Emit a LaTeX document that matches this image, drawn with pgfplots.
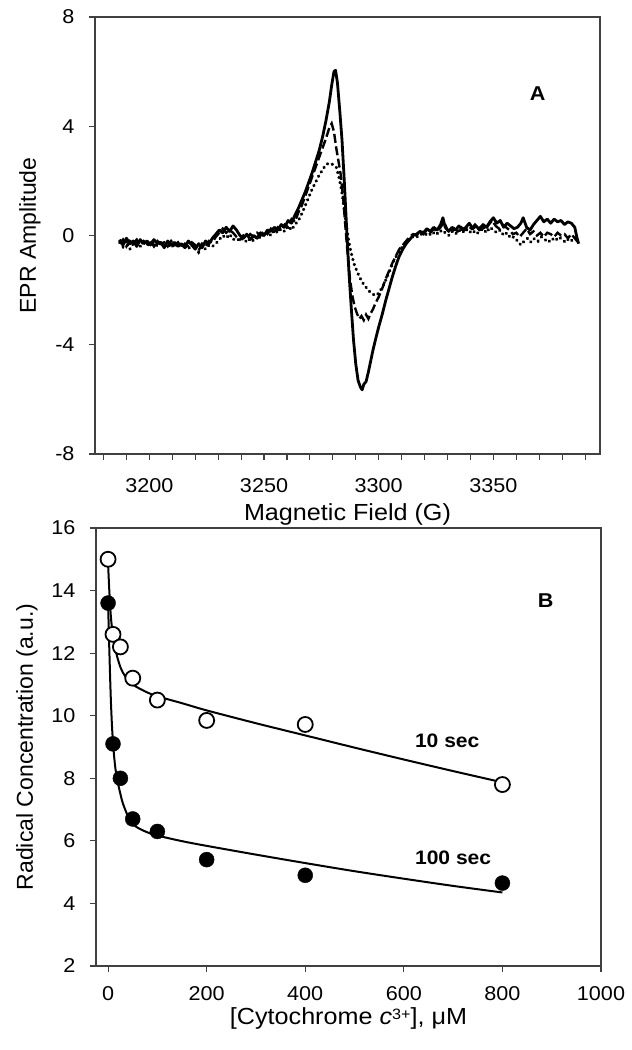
\documentclass[border=0pt]{standalone}
\usepackage{fontspec}
\setmainfont[FakeStretch=1.08]{Liberation Sans}
\newfontfamily\rotfont{Liberation Sans}
\usepackage{pgfplots}
\pgfplotsset{compat=1.18}
\definecolor{axgray}{HTML}{404040}

\pgfplotstableread{
x y
3187 -0.15
3188.5 -0.35
3190 -0.1
3191.5 -0.3
3193 -0.2
3194.5 -0.4
3196 -0.15
3197.5 -0.3
3199 -0.2
3200.5 -0.35
3202 -0.15
3203.5 -0.3
3205 -0.25
3206.5 -0.45
3208 -0.2
3209.5 -0.35
3211 -0.25
3212.5 -0.4
3214 -0.3
3215.5 -0.45
3217 -0.2
3218.5 -0.35
3220 -0.5
3221.5 -0.3
3223 -0.45
3224.5 -0.2
3226 -0.3
3227.5 -0.1
3229 0.05
3230.5 0.2
3232 0.1
3233.5 0.3
3235 0.15
3236.5 0.35
3238 0.2
3239.5 0.0
3241 -0.1
3242.5 0.05
3244 -0.15
3245.5 0.0
3247 -0.1
3248.5 0.1
3250 0.0
3251.5 0.2
3253 0.15
3254.5 0.3
3256 0.2
3257.5 0.4
3259 0.3
3260.5 0.55
3262 0.45
3263.5 0.75
3265 1.0
3266.5 1.3
3268 1.6
3269.5 1.95
3271 2.3
3272.5 2.7
3274 3.1
3275.5 3.6
3277 4.2
3278.5 4.9
3279.5 5.5
3280.5 6.0
3281.2 6.05
3282 5.6
3283 4.6
3284 3.5
3285 2.0
3286 0.3
3287 -1.3
3288 -2.6
3289 -3.8
3290 -4.7
3291 -5.3
3292 -5.55
3292.8 -5.65
3293.5 -5.45
3294.5 -5.35
3295.5 -5.0
3296.5 -4.6
3297.5 -4.2
3298.5 -3.85
3300 -3.35
3301.5 -2.9
3303 -2.4
3304.5 -1.95
3306 -1.5
3307.5 -1.1
3309 -0.75
3310.5 -0.5
3312 -0.3
3313.5 -0.15
3315 0.0
3316.5 0.05
3318 0.15
3319.5 0.1
3321 0.25
3322.5 0.15
3324 0.3
3325.5 0.2
3327 0.4
3328 0.65
3329 0.3
3330.5 0.15
3332 0.3
3333.5 0.2
3335 0.35
3336.5 0.2
3338 0.3
3339.5 0.45
3341 0.25
3342.5 0.35
3344 0.2
3345.5 0.4
3347 0.3
3348.5 0.5
3350 0.65
3351.5 0.45
3353 0.55
3354.5 0.3
3356 0.45
3357.5 0.35
3359 0.25
3360.5 0.3
3362 0.45
3363 0.65
3364.5 0.3
3366 0.2
3367.5 0.4
3369 0.55
3370.5 0.7
3372 0.5
3373.5 0.6
3375 0.45
3376.5 0.6
3378 0.5
3379.5 0.55
3381 0.4
3382.5 0.5
3384 0.45
3385.5 0.3
3386.5 -0.1
3387.2 -0.3
}\solidtab

\pgfplotstableread{
x y
3187 -0.3
3188.5 -0.15
3190 -0.4
3191.5 -0.2
3193 -0.3
3194.5 -0.15
3196 -0.35
3197.5 -0.2
3199 -0.3
3200.5 -0.2
3202 -0.4
3203.5 -0.2
3205 -0.3
3206.5 -0.25
3208 -0.4
3209.5 -0.2
3211 -0.35
3212.5 -0.25
3214 -0.45
3215.5 -0.3
3217 -0.4
3218.5 -0.25
3220 -0.35
3221.5 -0.55
3223 -0.3
3224.5 -0.4
3226 -0.2
3227.5 -0.25
3229 -0.05
3230.5 0.1
3232 0.25
3233.5 0.1
3235 0.2
3236.5 0.1
3238 -0.05
3239.5 -0.15
3241 0.0
3242.5 -0.1
3244 0.05
3245.5 -0.05
3247 0.1
3248.5 0.0
3250 0.15
3251.5 0.05
3253 0.25
3254.5 0.15
3256 0.3
3257.5 0.2
3259 0.4
3260.5 0.3
3262 0.6
3263.5 0.5
3265 0.85
3266.5 1.1
3268 1.45
3269.5 1.8
3271 2.15
3272.5 2.5
3274 2.85
3275.5 3.2
3277 3.55
3278.5 3.95
3279.5 4.1
3280.5 3.8
3281.5 3.2
3282.5 2.7
3283.5 2.2
3284.5 1.4
3285.5 0.3
3286.5 -0.7
3287.5 -1.6
3288.5 -2.2
3289.5 -2.6
3290.5 -2.85
3291.5 -3.05
3292.5 -2.95
3293.5 -3.1
3294.5 -2.9
3295.5 -3.05
3296.5 -2.85
3297.5 -2.7
3298.5 -2.5
3300 -2.25
3301.5 -1.95
3303 -1.6
3304.5 -1.3
3306 -1.0
3307.5 -0.75
3309 -0.5
3310.5 -0.35
3312 -0.2
3313.5 -0.05
3315 0.05
3316.5 0.0
3318 0.15
3319.5 0.05
3321 0.2
3322.5 0.1
3324 0.25
3325.5 0.15
3327 0.3
3328.5 0.5
3330 0.2
3331.5 0.1
3333 0.25
3334.5 0.15
3336 0.3
3337.5 0.2
3339 0.35
3340.5 0.25
3342 0.4
3343.5 0.25
3345 0.35
3346.5 0.2
3348 0.4
3349.5 0.55
3351 0.35
3352.5 0.25
3354 0.4
3355.5 0.3
3357 0.2
3358.5 0.05
3360 0.1
3361.5 -0.05
3363 0.1
3364.5 0.25
3366 0.05
3367.5 0.15
3369 0.0
3370.5 0.1
3372 -0.05
3373.5 0.1
3375 0.05
3376.5 -0.05
3378 0.1
3379.5 0.0
3381 0.05
3382.5 -0.1
3384 0.05
3385.5 -0.1
3387 -0.25
}\dashtab

\pgfplotstableread{
x y
3187 -0.25
3188.5 -0.4
3190 -0.2
3191.5 -0.5
3193 -0.3
3194.5 -0.25
3196 -0.4
3197.5 -0.25
3199 -0.35
3200.5 -0.3
3202 -0.25
3203.5 -0.4
3205 -0.3
3206.5 -0.35
3208 -0.3
3209.5 -0.45
3211 -0.3
3212.5 -0.4
3214 -0.35
3215.5 -0.4
3217 -0.5
3218.5 -0.3
3220 -0.4
3221.5 -0.6
3223 -0.4
3224.5 -0.5
3226 -0.35
3227.5 -0.4
3229 -0.3
3230.5 -0.15
3232 0.0
3233.5 -0.1
3235 0.05
3236.5 -0.15
3238 -0.1
3239.5 -0.2
3241 -0.1
3242.5 -0.25
3244 -0.1
3245.5 -0.2
3247 0.0
3248.5 -0.1
3250 0.05
3251.5 0.15
3253 0.0
3254.5 0.2
3256 0.1
3257.5 0.25
3259 0.15
3260.5 0.35
3262 0.2
3263.5 0.4
3265 0.55
3266.5 0.8
3268 1.1
3269.5 1.4
3271 1.7
3272.5 1.95
3274 2.2
3275.5 2.4
3277 2.6
3278.5 2.65
3280 2.6
3281.5 2.5
3282.5 2.2
3283.5 1.8
3284.5 1.3
3285.5 0.6
3286.5 0.0
3287.5 -0.45
3288.5 -0.8
3289.5 -1.1
3290.5 -1.3
3291.5 -1.5
3292.5 -1.65
3293.5 -1.8
3294.5 -1.9
3295.5 -2.0
3296.5 -2.1
3297.5 -2.15
3298.5 -2.2
3299.5 -2.15
3300.5 -2.05
3301.5 -1.9
3302.5 -1.75
3303.5 -1.55
3305 -1.25
3306.5 -0.95
3308 -0.7
3309.5 -0.5
3311 -0.35
3312.5 -0.2
3314 -0.1
3315.5 0.0
3317 -0.05
3318.5 0.05
3320 0.0
3321.5 0.1
3323 0.0
3324.5 0.15
3326 0.05
3327.5 0.2
3329 0.1
3330.5 0.0
3332 0.15
3333.5 0.05
3335 0.2
3336.5 0.1
3338 0.25
3339.5 0.1
3341 0.2
3342.5 0.05
3344 0.15
3345.5 0.25
3347 0.1
3348.5 0.3
3350 0.2
3351.5 0.1
3353 0.2
3354.5 0.0
3356 0.1
3357.5 -0.1
3359 -0.05
3360.5 -0.2
3362 -0.35
3363.5 -0.2
3365 -0.1
3366.5 -0.25
3368 -0.1
3369.5 -0.2
3371 -0.05
3372.5 -0.15
3374 -0.25
3375.5 -0.1
3377 -0.2
3378.5 -0.05
3380 -0.15
3381.5 -0.25
3383 -0.1
3384.5 -0.2
3386 -0.05
3387 -0.3
}\dottab

\pgfplotstableread{
x y
0 15.0
10 12.6
25 12.2
50 11.2
100 10.5
200 9.85
400 9.72
800 7.8
}\tenpts

\pgfplotstableread{
x y
0 13.6
10 9.1
25 8.0
50 6.7
100 6.3
200 5.4
400 4.9
800 4.65
}\hundpts

\pgfplotstableread{
x y
0 14.85
1 14.5
2 14.15
3 13.85
4 13.55
6 13.1
8 12.8
10 12.55
12 12.35
15 12.1
20 11.8
25 11.55
30 11.38
40 11.15
50 11.0
60 10.9
80 10.74
100 10.62
150 10.4
200 10.17
300 9.76
400 9.37
500 8.98
600 8.6
700 8.23
800 7.87
}\tenfit

\pgfplotstableread{
x y
0 13.55
1 13.0
2 12.4
3 11.85
4 11.3
5 10.8
6 10.35
8 9.65
10 9.15
12 8.75
15 8.3
20 7.85
25 7.5
30 7.2
40 6.8
50 6.55
60 6.42
80 6.27
100 6.17
150 5.99
200 5.84
300 5.56
400 5.29
500 5.03
600 4.79
700 4.56
800 4.35
}\hundfit

\pgfplotsset{
  myax/.style={
    scale only axis, width=505pt,
    axis line style={color=axgray, line width=1.2pt},
    every tick/.style={color=axgray, line width=1.1pt},
    tick align=outside, major tick length=6pt, minor tick length=6pt,
    xtick pos=bottom, ytick pos=left,
    scaled ticks=false,
    /pgf/number format/1000 sep={},
    /pgf/number format/assume math mode=true,
    ticklabel style={font=\fontsize{20}{22}\selectfont},
    yticklabel style={xshift=-11pt},
    xlabel style={font=\fontsize{23.3}{26}\selectfont, anchor=base},
    ylabel style={font=\rotfont\fontsize{23}{26}\selectfont, anchor=center},
  }
}

\begin{document}
\begin{tikzpicture}
\path[use as bounding box] (0,0) rectangle (632pt,1050pt);

% Panel A
\begin{axis}[myax, height=437pt,
  at={(95pt,596pt)}, anchor=south west,
  xmin=3176.3, xmax=3396.5, ymin=-8, ymax=8,
  xtick={3200,3250,3300,3350},
  minor xtick={3180,3190,3210,3220,3230,3240,3260,3270,3280,3290,3310,3320,3330,3340,3360,3370,3380,3390},
  ytick={-8,-4,0,4,8},
  xticklabel style={yshift=-15pt},
  xlabel={Magnetic Field (G)},
  xlabel style={at={(axis description cs:0.5,-0.152)}},
  ylabel={EPR Amplitude},
  ylabel style={at={(axis description cs:-0.1287,0.5)}},
]
\addplot[black, line width=2.8pt, line join=round] table {\solidtab};
\addplot[black, line width=2.4pt, dash pattern=on 9pt off 3.5pt] table {\dashtab};
\addplot[black, line width=3.2pt, line cap=round, dash pattern=on 0.4pt off 4.8pt] table {\dottab};
\node[font=\fontsize{20}{22}\selectfont\bfseries] at (axis cs:3369.3,5.2) {A};
\end{axis}

% Panel B
\begin{axis}[myax, height=438pt,
  at={(96pt,84pt)}, anchor=south west,
  xmin=-24.5, xmax=1000, ymin=2, ymax=16,
  xtick={0,200,400,600,800,1000},
  ytick={2,4,6,8,10,12,14,16},
  xticklabel style={yshift=-11pt},
  xlabel={[Cytochrome \textit{c}\raisebox{0.2em}{\fontsize{15}{17}\selectfont 3+}], μM},
  xlabel style={at={(axis description cs:0.5,-0.1335)}},
  ylabel={Radical Concentration (a.u.)},
  ylabel style={at={(axis description cs:-0.1366,0.5)}},
]
\addplot[black, line width=2pt, smooth] table {\tenfit};
\addplot[black, line width=2pt, smooth] table {\hundfit};
\addplot[only marks, mark=*, mark size=7.5pt, mark options={fill=white, draw=black, line width=1.8pt}] table {\tenpts};
\addplot[only marks, mark=*, mark size=7.5pt, mark options={fill=black, draw=black}] table {\hundpts};
\node[font=\fontsize{20}{22}\selectfont\bfseries] at (axis cs:888,13.68) {B};
\node[font=\fontsize{19.5}{22}\selectfont\bfseries] at (axis cs:688,9.2) {10 sec};
\node[font=\fontsize{19.5}{22}\selectfont\bfseries] at (axis cs:700,5.45) {100 sec};
\end{axis}
\end{tikzpicture}
\end{document}
